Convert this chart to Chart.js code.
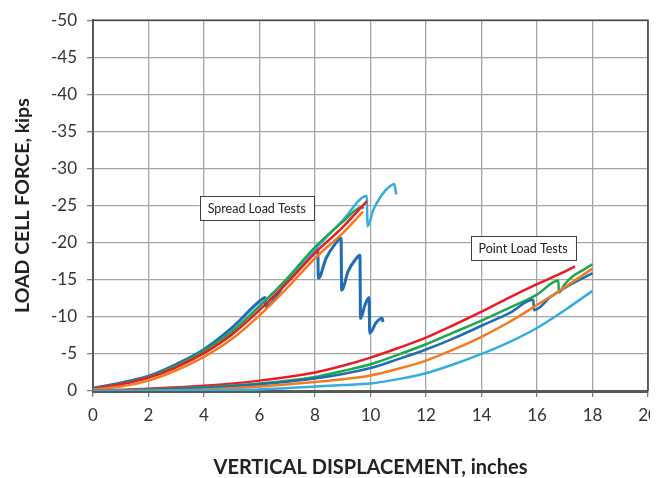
<!DOCTYPE html>
<html>
<head>
<meta charset="utf-8">
<script src="https://cdn.jsdelivr.net/npm/chart.js@4"></script>
<style>
  html, body { margin: 0; padding: 0; background: #fff; }
  #wrap { width: 650px; height: 478px; overflow: hidden; position: relative; }
  #chart { position: absolute; left: 0; top: 0; }
</style>
</head>
<body>
<div id="wrap"><canvas id="chart" width="690" height="478"></canvas></div>
<script>
// x = vertical displacement (inches), y = load cell force (kips)
const xTicks = [0, 2, 4, 6, 8, 10, 12, 14, 16, 18, 20];
const yTicks = [-50, -45, -40, -35, -30, -25, -20, -15, -10, -5, 0];

// spread load tests
const spreadDarkBlue = [[0,-0.4],[1,-1.1],[2,-2.0],[3,-3.6],[4,-5.6],[5,-8.5],[6,-12.1],[6.2,-12.6],[6.22,-11.4],[7,-14.9],[8,-18.8],[8.1,-19.2],
  [8.12,-15.2],[8.4,-17.9],[8.7,-19.7],[8.94,-20.6],[8.96,-13.6],[9.2,-16.2],[9.45,-17.7],[9.62,-18.3],[9.64,-9.8],[9.8,-11.6],[9.95,-12.6],
  [9.97,-7.8],[10.2,-9.2],[10.42,-9.8],[10.45,-9.3]];
const spreadLightBlue = [[0,-0.3],[1,-0.9],[2,-1.8],[3,-3.3],[4,-5.3],[5,-8.0],[6,-11.5],[7,-15.1],[8,-19.1],[9,-23.0],[9.87,-26.3],
  [9.89,-22.2],[10.1,-24.4],[10.4,-26.4],[10.7,-27.6],[10.85,-27.9],[10.93,-26.5]];
const spreadGreen = [[0,-0.3],[1,-0.9],[2,-1.9],[3,-3.4],[4,-5.4],[5,-8.0],[6,-11.4],[7,-15.2],[8,-19.4],[9,-22.8],[9.7,-24.8],[9.75,-24.6]];
const spreadRed = [[0,-0.3],[1,-0.9],[2,-1.8],[3,-3.2],[4,-5.1],[5,-7.6],[6,-10.9],[7,-14.6],[8,-18.6],[9,-22.1],[9.87,-25.6]];
const spreadOrange = [[0,-0.2],[1,-0.6],[2,-1.4],[3,-2.8],[4,-4.6],[5,-7.0],[6,-10.2],[7,-13.9],[8,-17.9],[9,-21.3],[9.73,-24.2]];

// point load tests
const pointRed = [[0,0],[2,-0.3],[4,-0.7],[6,-1.4],[8,-2.5],[9,-3.4],[10,-4.5],[11,-5.8],[12,-7.2],[13,-8.9],[14,-10.7],[15,-12.6],[16,-14.4],
  [17,-16.1],[17.37,-16.8]];
const pointGreen = [[0,0],[2,-0.2],[4,-0.5],[6,-1.0],[8,-1.9],[9,-2.7],[10,-3.6],[11,-4.9],[12,-6.3],[13,-7.9],[14,-9.5],[15,-11.2],[16,-13.0],
  [16.77,-14.9],[16.79,-13.3],[17.0,-14.4],[17.3,-15.5],[17.7,-16.4],[18,-17.1]];
const pointDarkBlue = [[0,0],[2,-0.15],[4,-0.4],[6,-0.9],[8,-1.7],[9,-2.3],[10,-3.1],[11,-4.3],[12,-5.6],[13,-7.1],[14,-8.8],[15,-10.5],[15.87,-12.3],
  [15.89,-10.9],[16.5,-12.7],[17,-13.9],[18,-15.9]];
const pointOrange = [[0,0],[2,-0.05],[4,-0.2],[6,-0.6],[8,-1.2],[9,-1.6],[10,-2.1],[11,-3.0],[12,-4.1],[13,-5.6],[14,-7.3],[15,-9.3],[16,-11.6],
  [17,-14.0],[18,-16.5]];
const pointLightBlue = [[0,0],[2,0],[4,-0.1],[6,-0.2],[8,-0.6],[9,-0.8],[10,-1.0],[11,-1.6],[12,-2.4],[13,-3.6],[14,-5.0],[15,-6.6],[16,-8.5],
  [17,-10.9],[18,-13.5]];

const notes = [
  { text: 'Spread Load Tests', x: 5.9, y: -24.7 },
  { text: 'Point Load Tests', x: 15.5, y: -19.25 }
];

const darkBlue = '#1f6db5', lightBlue = '#33ade2', green = '#1ea84a', red = '#ec1c24', orange = '#f47b20';

function series(pts, color, width) {
  return {
    data: pts.map(p => ({ x: p[0], y: p[1] })),
    borderColor: color,
    borderWidth: width || 2.5,
    pointRadius: 0,
    fill: false,
    cubicInterpolationMode: 'monotone'
  };
}

const framePlugin = {
  id: 'frame',
  afterDraw(chart) {
    const { ctx, chartArea: a, scales } = chart;
    ctx.save();
    ctx.strokeStyle = '#404040';
    ctx.lineWidth = 1.5;
    ctx.beginPath();
    ctx.moveTo(a.left, a.top); ctx.lineTo(a.right, a.top); ctx.lineTo(a.right, a.bottom);
    ctx.stroke();
    ctx.font = '12.5px Lato';
    ctx.textAlign = 'center';
    ctx.textBaseline = 'middle';
    notes.forEach(n => {
      const cx = scales.x.getPixelForValue(n.x);
      const cy = scales.y.getPixelForValue(n.y);
      const w = ctx.measureText(n.text).width + 16;
      const h = 24;
      ctx.fillStyle = '#fff';
      ctx.fillRect(cx - w / 2, cy - h / 2, w, h);
      ctx.strokeStyle = '#404040';
      ctx.lineWidth = 1;
      ctx.strokeRect(Math.round(cx - w / 2) + 0.5, Math.round(cy - h / 2) + 0.5, Math.round(w), h);
      ctx.fillStyle = '#222';
      ctx.fillText(n.text, cx, cy + 1);
    });
    ctx.restore();
  }
};

new Chart(document.getElementById('chart'), {
  type: 'line',
  data: {
    datasets: [
      series(pointLightBlue, lightBlue),
      series(pointOrange, orange),
      series(pointDarkBlue, darkBlue),
      series(pointGreen, green),
      series(pointRed, red),
      series(spreadOrange, orange),
      series(spreadRed, red),
      series(spreadGreen, green),
      series(spreadLightBlue, lightBlue),
      series(spreadDarkBlue, darkBlue, 3)
    ]
  },
  options: {
    responsive: false,
    animation: false,
    layout: { padding: { top: 8, right: 42, left: 7, bottom: 0 } },
    plugins: { legend: { display: false }, tooltip: { enabled: false } },
    scales: {
      x: {
        type: 'linear',
        min: 0, max: 20,
        afterBuildTicks: s => { s.ticks = xTicks.map(v => ({ value: v })); },
        afterFit: s => { s.height = 87; },
        ticks: { color: '#333', font: { family: 'Lato', size: 17 }, padding: 8, maxRotation: 0 },
        grid: { color: '#a6a6a6', lineWidth: 1.3, tickLength: 6, tickColor: '#808080' },
        border: { color: '#595959', width: 3 },
        title: { display: true, text: 'VERTICAL DISPLACEMENT, inches', color: '#222', font: { family: 'Lato', size: 20, weight: 'bold' }, padding: { top: 0, bottom: -2 } }
      },
      y: {
        type: 'linear',
        reverse: true,
        min: -50, max: 0,
        afterBuildTicks: s => { s.ticks = yTicks.map(v => ({ value: v })); },
        afterFit: s => { s.width = 86; },
        ticks: { color: '#333', font: { family: 'Lato', size: 17 }, padding: 10 },
        grid: { color: '#a6a6a6', lineWidth: 1.3, tickLength: 6, tickColor: '#808080' },
        border: { color: '#595959', width: 2 },
        title: { display: true, text: 'LOAD CELL FORCE, kips', color: '#222', font: { family: 'Lato', size: 19.5, weight: 'bold' }, padding: { top: 4, bottom: 4 } }
      }
    }
  },
  plugins: [framePlugin]
});
</script>
</body>
</html>
